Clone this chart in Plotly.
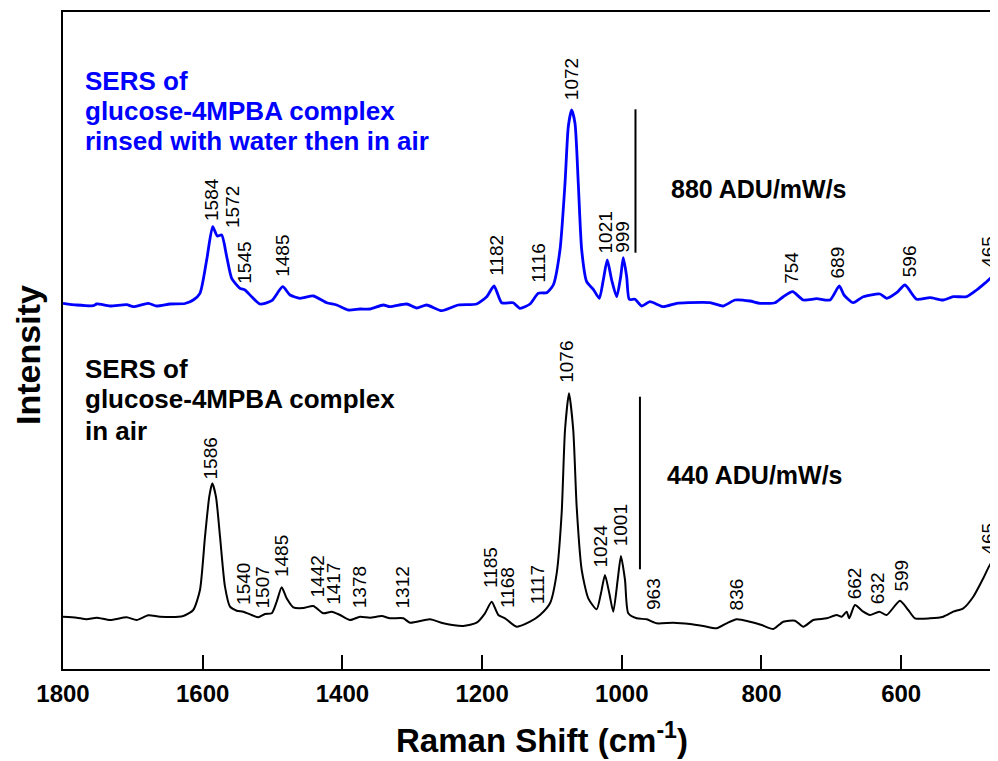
import plotly.graph_objects as go

# ---------------- data ----------------
# Raman shift (cm-1) and plotted intensity (arbitrary, stacked) for each spectrum
blue_shift = [1800, 1780.4, 1756.6, 1751.8, 1732.7, 1708.8, 1699.4, 1677.9, 1665.9, 1646.8,
              1625.3, 1613.5, 1603.9, 1594.3, 1585.7, 1579.1, 1572.8, 1565.6, 1558.5, 1546.6,
              1539.5, 1529.9, 1518, 1501.2, 1485.5, 1475, 1460.7, 1441.7, 1422.5, 1408.2,
              1391.6, 1374.8, 1360.5, 1341.5, 1331.9, 1307.9, 1293.6, 1279.3, 1257.9, 1234.1,
              1207.8, 1193.4, 1182.9, 1172, 1155.4, 1145.8, 1131.4, 1119.6, 1107.5, 1098.1,
              1088.5, 1081.3, 1076.6, 1071.8, 1067, 1062.3, 1057.4, 1050.3, 1040.8, 1032.2,
              1026.5, 1020.8, 1014.5, 1007.3, 1001.6, 997.9, 993, 989.3, 981.1, 971.5,
              959.7, 940.6, 921.4, 904.8, 873.8, 854.7, 837.8, 816.5, 802.2, 780.7,
              768.8, 755.4, 740.2, 721, 701.9, 688.6, 681.9, 668.6, 654.3, 630.4,
              620.8, 606.5, 594.6, 577.8, 558.8, 539.8, 525.5, 506.3, 492, 477.7,
              468.2, 461.5]
blue_int = [365.7, 364, 363.3, 365, 363, 364.3, 362.3, 365.7, 363, 365,
            365.5, 369, 375.7, 409, 442.3, 433, 434, 412.3, 390.7, 380.7,
            379, 372.3, 365, 368.3, 382.3, 374, 370.7, 373, 366.3, 364,
            359, 360, 360, 364, 362.3, 365, 361, 364, 358.3, 364,
            365, 372.3, 383, 366.3, 366.3, 360.7, 365, 375.7, 376.3, 384,
            419, 485.7, 542.3, 559, 545.7, 485.7, 419, 387.3, 379.7, 370.7,
            389, 409, 389, 372.3, 392.3, 411.3, 392.3, 369.7, 369.7, 363,
            367.3, 362.3, 365.7, 366.3, 366.3, 363, 369, 368, 365.7, 366.3,
            372.3, 377.3, 369, 370.3, 369, 383, 374, 366.3, 372.3, 375,
            370.7, 376.3, 384, 369.7, 371.3, 369, 372.3, 372.3, 379, 387.3,
            393, 392]

black_shift = [1800, 1780.4, 1766.1, 1751.8, 1732.7, 1708.8, 1694.5, 1677.9, 1661.1, 1627.8,
               1613.5, 1603.9, 1596.7, 1590.6, 1586.3, 1581, 1575.2, 1568.1, 1560.9, 1551.3,
               1541.9, 1529.9, 1520.4, 1510.8, 1501.2, 1494.1, 1486.9, 1479.8, 1470.3, 1456,
               1441.7, 1427.3, 1415.3, 1403.4, 1389.1, 1374.8, 1360.5, 1343.7, 1331.9, 1312.8,
               1303.2, 1274.6, 1255.6, 1226.9, 1207.8, 1195.9, 1186.3, 1176.8, 1167.2, 1150.5,
               1131.4, 1117.1, 1102.8, 1093.2, 1086.1, 1081.3, 1075.6, 1069.5, 1064.6, 1057.4,
               1048, 1036, 1029.8, 1024.1, 1017.9, 1012.2, 1005.9, 1001.2, 995.4, 990.7,
               978.7, 964.4, 950, 926.3, 902.4, 883.4, 864.2, 849.9, 835.5, 816.5,
               799.8, 783.1, 768.8, 752.1, 740.2, 725.9, 706.7, 692.4, 685.2, 678.1,
               674.4, 666.2, 654.3, 644.7, 631.4, 620.8, 601.8, 589.9, 580.3, 558.8,
               539.8, 525.5, 511.1, 496.8, 482.5, 469, 461.5]
black_int = [52.3, 51.3, 49.7, 51.3, 49, 51.7, 49, 53.7, 52.3, 53,
             59, 79, 132.3, 172.3, 185.7, 172.3, 132.3, 82.3, 62.3, 58.3,
             57.3, 54, 51.7, 55, 55.7, 67.3, 81.7, 70.7, 61.7, 61,
             63, 55.7, 57.3, 54, 49, 52.3, 51.3, 53, 50.7, 50.7,
             46.3, 49.7, 45.7, 43, 46.3, 55.7, 67.3, 54, 50.7, 42.3,
             47.3, 54, 65.7, 95.7, 155.7, 239, 275.7, 239, 162.3, 99,
             70.7, 59.7, 75.7, 94, 75.7, 57.3, 89, 113, 89, 55.7,
             50.7, 49.7, 45.7, 46.3, 45, 43, 40.7, 45.7, 49.7, 47.3,
             44, 40, 47.3, 48.3, 42.3, 49, 50.7, 54, 52.3, 57.3,
             50.7, 64, 57.3, 54, 57.3, 54, 68.3, 59, 50.7, 50.7,
             52.3, 57.3, 60.7, 72.3, 90.7, 108.3, 106]

blue_peak_labels = ["1584", "1572", "1545", "1485", "1182", "1116", "1072", "1021", "999",
                    "754", "689", "596", "465"]
black_peak_labels = ["1586", "1540", "1507", "1485", "1442", "1417", "1378", "1312", "1185",
                     "1168", "1117", "1076", "1024", "1001", "963", "836", "662", "632",
                     "599", "465"]

blue_desc = ["SERS of", "glucose-4MPBA complex", "rinsed with water then in air"]
black_desc = ["SERS of", "glucose-4MPBA complex", "in air"]
scale_labels = ["880 ADU/mW/s", "440 ADU/mW/s"]

x_ticks = [1800, 1600, 1400, 1200, 1000, 800, 600]

# ---------------- placement (layout only) ----------------
blue_label_pos = [(1588.4, 446.3), (1558.1, 439), (1541.3, 383), (1485.8, 390.7), (1178.7, 391.7),
                  (1119.7, 384), (1072.1, 567.3), (1023.4, 414), (1000.0, 414), (758.1, 383),
                  (691.2, 389), (588.9, 389.7), (476.0, 399)]
black_label_pos = [(1588.4, 187.3), (1540.6, 62.3), (1514.4, 59), (1486.8, 89.7), (1436.1, 69.7),
                   (1411.8, 62.3), (1375.9, 59), (1314, 59), (1188, 79), (1163.7, 59),
                   (1120.3, 63), (1080.2, 284), (1030.1, 99.7), (1002.6, 120.7), (954.9, 57.3),
                   (835.5, 56.3), (666.6, 67.3), (633.9, 62.3), (599.9, 75.7), (474.3, 112.3)]

BLUE = "#0000ff"
FONT = "Liberation Sans, Arial, sans-serif"

fig = go.Figure()
fig.add_trace(go.Scatter(x=blue_shift, y=blue_int, mode="lines",
                         line=dict(color=BLUE, width=2.8, shape="spline", smoothing=0.6),
                         showlegend=False, hoverinfo="skip"))
fig.add_trace(go.Scatter(x=black_shift, y=black_int, mode="lines",
                         line=dict(color="black", width=2, shape="spline", smoothing=0.6),
                         showlegend=False, hoverinfo="skip"))

ann = []
for txt, (px, py) in zip(blue_peak_labels, blue_label_pos):
    ann.append(dict(x=px, y=py, xref="x", yref="y", text=txt, textangle=-90, showarrow=False,
                    xanchor="center", yanchor="bottom", font=dict(family=FONT, size=19, color="black")))
for txt, (px, py) in zip(black_peak_labels, black_label_pos):
    ann.append(dict(x=px, y=py, xref="x", yref="y", text=txt, textangle=-90, showarrow=False,
                    xanchor="center", yanchor="bottom", font=dict(family=FONT, size=19, color="black")))

for t, yy in zip(blue_desc, [588.2, 558, 527.7]):
    ann.append(dict(x=1771.5, y=yy, xref="x", yref="y", text="<b>%s</b>" % t, showarrow=False,
                    xanchor="left", yanchor="middle", font=dict(family=FONT, size=26, color=BLUE)))
for t, yy in zip(black_desc, [299.8, 270.3, 238.3]):
    ann.append(dict(x=1771.5, y=yy, xref="x", yref="y", text="<b>%s</b>" % t, showarrow=False,
                    xanchor="left", yanchor="middle", font=dict(family=FONT, size=26, color="black")))

ann.append(dict(x=932.4, y=480.3, xref="x", yref="y", text="<b>%s</b>" % scale_labels[0], showarrow=False,
                xanchor="left", yanchor="middle", font=dict(family=FONT, size=25, color="black")))
ann.append(dict(x=938.2, y=194, xref="x", yref="y", text="<b>%s</b>" % scale_labels[1], showarrow=False,
                xanchor="left", yanchor="middle", font=dict(family=FONT, size=25, color="black")))

# axis titles
ann.append(dict(x=0.512, y=-0.105, xref="paper", yref="paper",
                text="<b>Raman Shift (cm<sup>-1</sup>)</b>", showarrow=False,
                xanchor="center", yanchor="middle", font=dict(family=FONT, size=33, color="black")))
ann.append(dict(x=-0.0374, y=0.478, xref="paper", yref="paper", text="<b>Intensity</b>",
                textangle=-90, showarrow=False, xanchor="center", yanchor="middle",
                font=dict(family=FONT, size=34, color="black")))

shapes = [
    dict(type="line", xref="x", yref="y", x0=980.4, x1=980.4, y0=416.3, y1=559.7,
         line=dict(color="black", width=2)),
    dict(type="line", xref="x", yref="y", x0=974, x1=974, y0=99.7, y1=272.3,
         line=dict(color="black", width=2)),
]

# the page body adds an 8px margin, so the figure is sized/margined to land on the reference frame
fig.update_layout(
    width=990, height=753,
    margin=dict(l=55, r=0, t=4, b=92),
    paper_bgcolor="white", plot_bgcolor="white",
    annotations=ann, shapes=shapes,
    xaxis=dict(range=[1800, 461.4], tickvals=x_ticks, ticktext=["<b>%d</b>" % v for v in x_ticks],
               ticks="inside", ticklen=14, tickwidth=2, tickcolor="black",
               showline=True, linecolor="black", linewidth=2, mirror=True,
               showgrid=False, zeroline=False, ticklabelstandoff=2,
               tickfont=dict(family=FONT, size=24, color="black")),
    yaxis=dict(range=[0, 657], showticklabels=False, ticks="", showline=True,
               linecolor="black", linewidth=2, showgrid=False, zeroline=False),
)

fig.write_html("out.html")
